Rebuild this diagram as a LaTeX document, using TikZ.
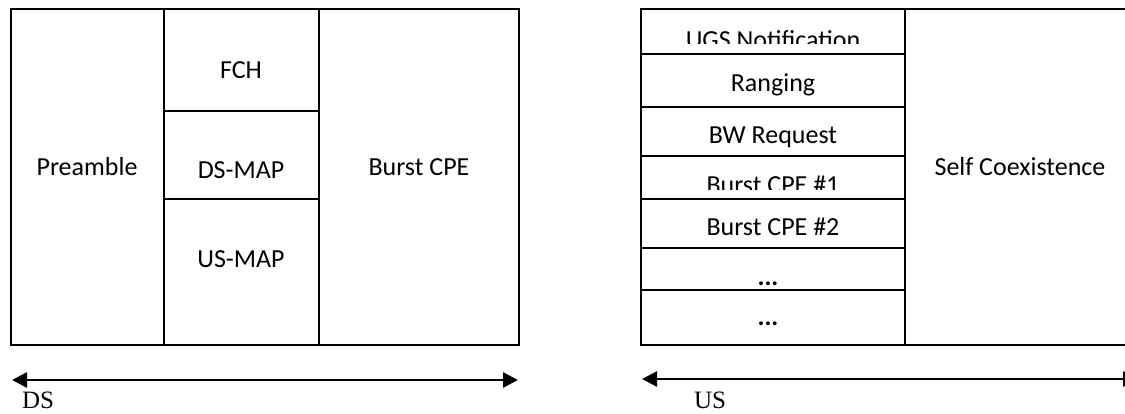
\documentclass[tikz,border=0pt]{standalone}
\usepackage{fontspec}
\setmainfont{Carlito}
\newfontfamily\timesfont{Liberation Serif}
\usetikzlibrary{arrows.meta}
\begin{document}
\begin{tikzpicture}[x=0.5pt,y=-0.5pt, line width=1pt,
  lbl/.style={font=\fontsize{13}{15}\selectfont, inner sep=0pt, anchor=base},
  dirlbl/.style={font=\timesfont\fontsize{12.5}{15}\selectfont, inner sep=0pt, anchor=base west},
  dirarrow/.style={line width=1.3pt, {Triangle[length=7.5pt,width=7.5pt]}-{Triangle[length=7.5pt,width=7.5pt]}}]
\useasboundingbox (0,0) rectangle (1125,413);
% left frame (DS)
\draw (11,9) rectangle (519,345);
\draw (164,9) -- (164,345);
\draw (319,9) -- (319,345);
\draw (164,111) -- (319,111);
\draw (164,199) -- (319,199);
\node[lbl] (pre) at (87,175) {Preamble};
\node[lbl] (fch) at (241,78) {FCH};
\node[lbl] (dsmap) at (241,178) {DS-MAP};
\node[lbl] (usmap) at (241,267) {US-MAP};
\node[lbl] (burst) at (419,175) {Burst CPE};
% right frame (US)
\draw (641,9) rectangle (1135,345);
\draw (905,9) -- (905,345);
\foreach \yy in {54,107,156,199,248,290} {\draw (641,\yy) -- (905,\yy);}
\begin{scope}
\clip (641,9) rectangle (905,43);
\node[lbl] (ugs) at (773,48) {UGS Notification};
\end{scope}
\node[lbl] (rng) at (773,91) {Ranging};
\node[lbl] (bw) at (773,143) {BW Request};
\begin{scope}
\clip (641,156) rectangle (905,189);
\node[lbl] (bone) at (773,193) {Burst CPE \#1};
\end{scope}
\node[lbl] (btwo) at (773,235) {Burst CPE \#2};
\node[lbl] (dotsa) at (768,285) {\textbf{...}};
\node[lbl] (dotsb) at (768,325) {\textbf{...}};
\node[lbl] (self) at (1020,175) {Self Coexistence};
% direction arrows
\coordinate (dsL) at (12,380);
\coordinate (dsR) at (518,380);
\draw[dirarrow] (dsL) -- (dsR);
\node[dirlbl] (ds) at (21,408) {DS};
\coordinate (usL) at (642,379);
\coordinate (usR) at (1138,379);
\draw[dirarrow] (usL) -- (usR);
\node[dirlbl] (us) at (693,408) {US};
\end{tikzpicture}
\end{document}
